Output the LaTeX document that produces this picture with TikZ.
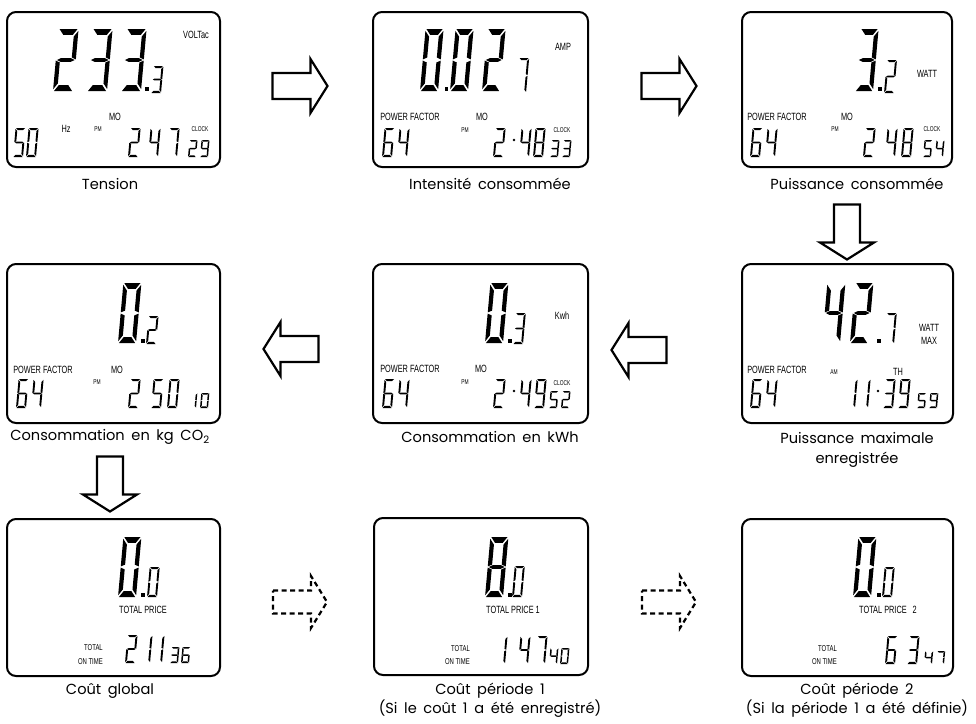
\documentclass[tikz,border=0pt]{standalone}
\usepackage{fontspec}
\setmainfont{Poppins}[WordSpace=1.7]
\newfontfamily\lcdfont{Liberation Sans}[FakeStretch=0.7]
\def\tv{0.22}\def\tt{0.09}\def\tg{0.035}
\newcommand\SGa{\fill (0.05,1) -- (0.95,1) -- ({0.95-\tv},{1-\tt}) -- ({0.05+\tv},{1-\tt}) -- cycle;}
\newcommand\SGd{\fill (0.05,0) -- (0.95,0) -- ({0.95-\tv},\tt) -- ({0.05+\tv},\tt) -- cycle;}
\newcommand\SGf{\fill (0,0.97) -- (\tv,{0.97-\tt}) -- (\tv,0.54) -- (0,0.51) -- cycle;}
\newcommand\SGb{\fill (1,0.97) -- ({1-\tv},{0.97-\tt}) -- ({1-\tv},0.54) -- (1,0.51) -- cycle;}
\newcommand\SGe{\fill (0,0.03) -- (\tv,{0.03+\tt}) -- (\tv,0.46) -- (0,0.49) -- cycle;}
\newcommand\SGc{\fill (1,0.03) -- ({1-\tv},{0.03+\tt}) -- ({1-\tv},0.46) -- (1,0.49) -- cycle;}
\newcommand\SGg{\fill (0.06,0.5) -- ({0.03+\tv},{0.5+\tg}) -- ({0.97-\tv},{0.5+\tg}) -- (0.94,0.5) -- ({0.97-\tv},{0.5-\tg}) -- ({0.03+\tv},{0.5-\tg}) -- cycle;}
\newcommand\dg[1]{\ifcase#1 \SGa\SGb\SGc\SGd\SGe\SGf\or \SGb\SGc\or \SGa\SGb\SGg\SGe\SGd\or \SGa\SGb\SGg\SGc\SGd\or \SGf\SGg\SGb\SGc\or \SGa\SGf\SGg\SGc\SGd\or \SGa\SGf\SGg\SGe\SGd\SGc\or \SGa\SGb\SGc\or \SGa\SGb\SGc\SGd\SGe\SGf\SGg\or \SGa\SGb\SGc\SGd\SGf\SGg\fi}
% x, y(bottom), height, width, digit
\newcommand\LCD[5]{\begin{scope}[shift={(#1,#2)},xslant=0.09,xscale=#4,yscale=-#3]
\pgfmathsetmacro\tv{#3>45 ? 4.2/#4 : (#3>24 ? 1.9/#4 : 1.5/#4)}%
\pgfmathsetmacro\tt{#3>45 ? 5.8/#3 : (#3>24 ? 2.2/#3 : 1.6/#3)}%
\pgfmathsetmacro\tg{#3>45 ? 1.8/#3 : (#3>24 ? 0.9/#3 : 0.75/#3)}%
\dg{#5}\end{scope}}
\newcommand\DP[2]{\fill (#1,#2) rectangle ++(3.6,-3.6);}
\newcommand\CD[2]{\fill (#1,#2) circle (1.3);}
\begin{document}
\begin{tikzpicture}[x=1pt,y=-1pt,
 panel/.style={draw, line width=2pt, rounded corners=9pt, inner sep=0},
 lab/.style={font=\lcdfont\fontsize{10.5}{10.5}\selectfont, inner sep=0},
 tiny/.style={font=\lcdfont\fontsize{7}{7}\selectfont, inner sep=0},
 smlab/.style={font=\lcdfont\fontsize{8.5}{8.5}\selectfont, inner sep=0, anchor=east},
 captext/.style={font=\fontsize{14.6}{19.5}\selectfont, inner sep=0, align=center},
 blk/.style={draw, line width=2.2pt, fill=white, line join=miter},
 dsh/.style={draw, line width=2.2pt, dash pattern=on 5pt off 3.5pt, line join=miter},
 barrow/.pic={\draw[blk] (-27.5,-13) -- (10.5,-13) -- (10.5,-27) -- (27.5,0) -- (10.5,27) -- (10.5,13) -- (-27.5,13) -- cycle;},
 darrow/.pic={\draw[dsh] (-27,-11.5) -- (11,-11.5) -- (11,-26) -- (27,0) -- (11,26) -- (11,11.5) -- (-27,11.5) -- cycle;}
]
\useasboundingbox (0,0) rectangle (976,723);
% panels
\node[panel, minimum width=213, minimum height=155] (p1) at (113.5,89.5) {};
\node[panel, minimum width=215, minimum height=155] (p2) at (480.5,89.5) {};
\node[panel, minimum width=210, minimum height=155] (p3) at (847,89.5) {};
\node[panel, minimum width=213, minimum height=159] (p4) at (113.5,343.5) {};
\node[panel, minimum width=215, minimum height=159] (p5) at (480.5,343.5) {};
\node[panel, minimum width=211, minimum height=159] (p6) at (847.5,343.5) {};
\node[panel, minimum width=213, minimum height=157] (p7) at (113.5,597.5) {};
\node[panel, minimum width=214, minimum height=157] (p8) at (481,596.5) {};
\node[panel, minimum width=211, minimum height=157] (p9) at (847.5,597.5) {};
% arrows
\coordinate (a1) at (300,86);
\coordinate (a2) at (669,86);
\coordinate (a3) at (847,232);
\coordinate (a4) at (639,350);
\coordinate (a5) at (291,349);
\coordinate (a6) at (110,484);
\coordinate (a7) at (300,602);
\coordinate (a8) at (669,602);
\pic at (a1) {barrow};
\pic at (a2) {barrow};
\pic[rotate=-90] at (a3) {barrow};
\pic[rotate=180] at (a4) {barrow};
\pic[rotate=180] at (a5) {barrow};
\pic[rotate=-90] at (a6) {barrow};
\pic at (a7) {darrow};
\pic at (a8) {darrow};
% ---------- panel 1
\LCD{53}{91}{62}{20}{2}\LCD{87}{91}{62}{20}{3}\LCD{121}{91}{62}{20}{3}
\DP{145}{91}\LCD{151}{93}{27}{10}{3}
\LCD{13}{157}{29}{10}{5}\LCD{26}{157}{29}{10}{0}
\LCD{128}{157}{29}{10}{2}\LCD{148}{157}{29}{10}{4}\LCD{167}{157}{29}{10}{7}
\LCD{188}{157}{17}{8}{2}\LCD{200}{157}{17}{8}{9}
\node[lab] (v1) at (196,35) {VOLTac};
\node[lab] (hz1) at (66,129) {Hz};
\node[tiny] (pm1) at (98,129) {PM};
\node[lab] (mo1) at (115,117) {MO};
\node[tiny] (ck1) at (200,129) {CLOCK};
% ---------- panel 2
\LCD{420}{91}{62}{18}{0}\DP{444.5}{91}\LCD{450}{91}{62}{18}{0}\LCD{482}{91}{62}{18}{2}
\LCD{516}{93}{35}{10}{7}
\LCD{382}{157}{29}{10}{6}\LCD{397}{157}{29}{10}{4}
\LCD{493}{157}{29}{10}{2}\CD{514}{140}\LCD{519}{157}{29}{10}{4}\LCD{533}{157}{29}{10}{8}
\LCD{550}{157}{17}{8}{3}\LCD{562}{157}{17}{8}{3}
\node[lab] (amp2) at (563,47) {AMP};
\node[lab] (pf2) at (410,117) {POWER FACTOR};
\node[lab] (mo2) at (482,117) {MO};
\node[tiny] (pm2) at (465,130) {PM};
\node[tiny] (ck2) at (562,130) {CLOCK};
% ---------- panel 3
\LCD{855}{91}{62}{18}{3}\DP{878}{91}\LCD{884}{93}{33}{10}{2}
\LCD{750}{157}{29}{10}{6}\LCD{765}{157}{29}{10}{4}
\LCD{863}{157}{29}{10}{2}\LCD{885}{157}{29}{10}{4}\LCD{901}{157}{29}{10}{8}
\LCD{923}{157}{17}{8}{5}\LCD{935}{157}{17}{8}{4}
\node[lab] (watt3) at (927,74) {WATT};
\node[lab] (pf3) at (777,117) {POWER FACTOR};
\node[lab] (mo3) at (847,117) {MO};
\node[tiny] (pm3) at (835,129) {PM};
\node[tiny] (ck3) at (932,129) {CLOCK};
% ---------- panel 4
\LCD{118}{343}{60}{18}{0}\DP{141}{343}\LCD{146}{344}{28}{10}{2}
\LCD{16}{408}{29}{10}{6}\LCD{31}{408}{29}{10}{4}
\LCD{128}{408}{29}{10}{2}\LCD{151}{408}{29}{10}{5}\LCD{167}{408}{29}{10}{0}
\LCD{188}{408}{15}{8}{1}\LCD{200}{408}{15}{8}{0}
\node[lab] (pf4) at (43,370) {POWER FACTOR};
\node[lab] (mo4) at (117,370) {MO};
\node[tiny] (pm4) at (97,382) {PM};
% ---------- panel 5
\LCD{485}{343}{60}{18}{0}\DP{508}{343}\LCD{513}{344}{31}{10}{3}
\LCD{382}{408}{29}{10}{6}\LCD{397}{408}{29}{10}{4}
\LCD{493}{408}{29}{10}{2}\CD{514}{391}\LCD{519}{408}{29}{10}{4}\LCD{534}{408}{29}{10}{9}
\LCD{549}{408}{17}{8}{5}\LCD{561}{408}{17}{8}{2}
\node[lab] (kwh5) at (562,316) {Kwh};
\node[lab] (pf5) at (410,369) {POWER FACTOR};
\node[lab] (mo5) at (481,369) {MO};
\node[tiny] (pm5) at (465,382) {PM};
\node[tiny] (ck5) at (562,383) {CLOCK};
% ---------- panel 6
\LCD{822}{343}{60}{18}{4}\LCD{850}{343}{60}{18}{2}\DP{877}{343}\LCD{884}{344}{31}{10}{7}
\LCD{750}{408}{29}{10}{6}\LCD{765}{408}{29}{10}{4}
\LCD{845}{408}{29}{10}{1}\LCD{858}{408}{29}{10}{1}\CD{878}{391}\LCD{883}{408}{29}{10}{3}\LCD{898}{408}{29}{10}{9}
\LCD{917}{408}{15}{8}{5}\LCD{929}{408}{15}{8}{9}
\node[lab] (watt6) at (929,328) {WATT};
\node[lab] (max6) at (929,341) {MAX};
\node[lab] (pf6) at (777,370) {POWER FACTOR};
\node[tiny] (am6) at (834,372) {AM};
\node[lab] (th6) at (898,372) {TH};
% ---------- panel 7
\LCD{118}{597}{60}{18}{0}\DP{141}{597}\LCD{147}{597}{30}{10}{0}
\LCD{125}{663}{28}{10}{2}\LCD{140}{663}{28}{10}{1}\LCD{152}{663}{28}{10}{1}
\LCD{170}{663}{16}{8}{3}\LCD{181}{663}{16}{8}{6}
\node[lab] (tp7) at (143,610) {TOTAL PRICE};
\node[smlab] (tot7) at (103,648) {TOTAL};
\node[smlab] (on7) at (103,662) {ON TIME};
% ---------- panel 8
\LCD{485}{597}{60}{18}{8}\DP{508}{597}\LCD{512}{597}{31}{10}{0}
\LCD{495}{664}{28}{10}{1}\LCD{518}{664}{28}{10}{4}\LCD{535}{664}{28}{10}{7}
\LCD{549}{664}{16}{8}{4}\LCD{560}{664}{16}{8}{0}
\node[lab] (tp8) at (513,610) {TOTAL PRICE 1};
\node[smlab] (tot8) at (470,649) {TOTAL};
\node[smlab] (on8) at (470,662) {ON TIME};
% ---------- panel 9
\LCD{853}{597}{60}{18}{0}\DP{877}{597}\LCD{882}{597}{30}{10}{0}
\LCD{885}{664}{28}{10}{6}\LCD{907}{664}{28}{10}{3}
\LCD{924}{664}{13}{8}{4}\LCD{936}{664}{13}{8}{7}
\node[lab] (tp9) at (888,610) {TOTAL PRICE\hspace{6pt}2};
\node[smlab] (tot9) at (837,649) {TOTAL};
\node[smlab] (on9) at (837,662) {ON TIME};
% ---------- captions
\node[captext] (c1) at (110,184) {Tension};
\node[captext] (c2) at (490,184) {Intensité consommée};
\node[captext] (c3) at (857,184) {Puissance consommée};
\node[captext] (c4) at (110,437) {Consommation en kg CO\textsubscript{2}};
\node[captext] (c5) at (490,437) {Consommation en kWh};
\node[captext] (c6) at (857,450) {Puissance maximale\\enregistrée};
\node[captext] (c7) at (110,691) {Coût global};
\node[captext] (c8) at (490,700) {Coût période 1\\(Si le coût 1 a été enregistré)};
\node[captext] (c9) at (857,700) {Coût période 2\\(Si la période 1 a été définie)};
\end{tikzpicture}
\end{document}
